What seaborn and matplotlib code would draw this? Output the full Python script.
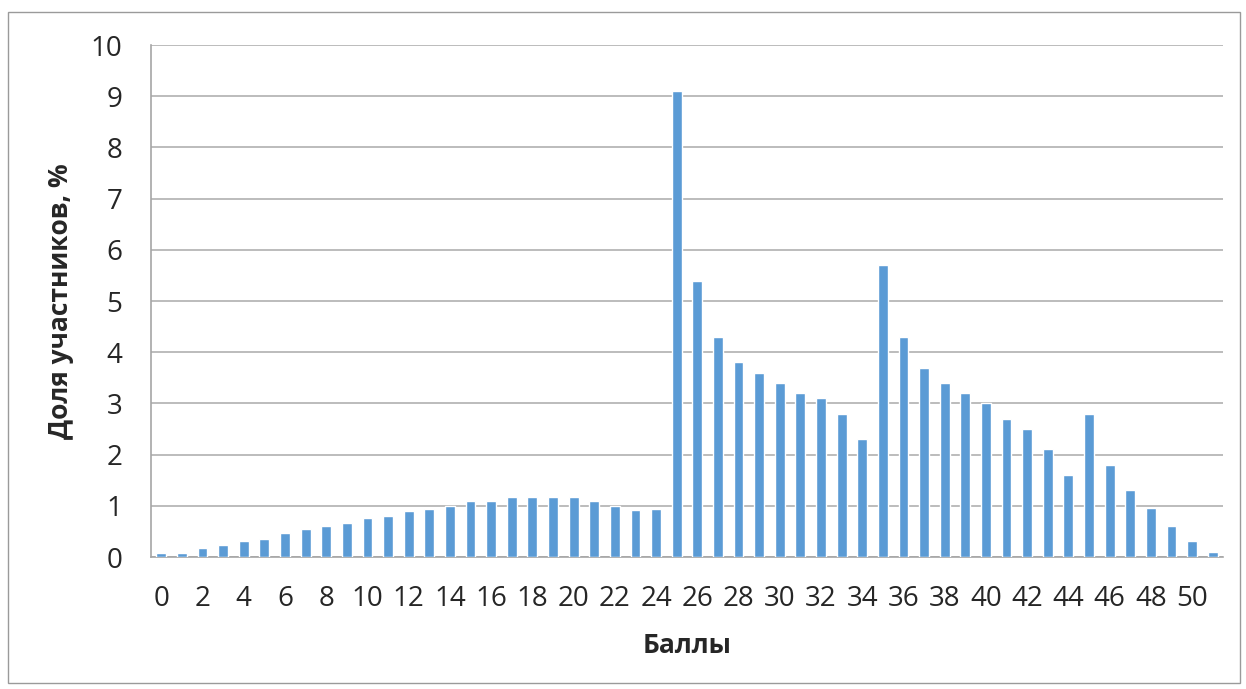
import numpy as np
import pandas as pd
import matplotlib
matplotlib.use("Agg")
import matplotlib.pyplot as plt
import seaborn as sns
from matplotlib.patches import Rectangle

# баллы 0..51 и доля участников, %
scores = list(range(52))
shares = [0.08, 0.08, 0.18, 0.24, 0.31, 0.36, 0.46, 0.54, 0.61, 0.66,
          0.76, 0.81, 0.89, 0.93, 1.0, 1.09, 1.09, 1.18, 1.18, 1.18,
          1.18, 1.09, 1.0, 0.91, 0.93, 9.1, 5.4, 4.3, 3.8, 3.6,
          3.4, 3.2, 3.1, 2.8, 2.3, 5.7, 4.3, 3.7, 3.4, 3.2,
          3.0, 2.7, 2.5, 2.1, 1.6, 2.8, 1.8, 1.3, 0.96, 0.61,
          0.31, 0.1]
y_ticks = list(range(0, 11))
x_label = "Баллы"
y_label = "Доля участников, %"

df = pd.DataFrame({"score": scores, "share": shares})

sns.set_style("white")
plt.rcParams["font.family"] = ["Open Sans", "DejaVu Sans"]

fig = plt.figure(figsize=(12.46, 6.89), dpi=100)
ax = fig.add_axes([151 / 1246, 1 - 557 / 689, (1223 - 151) / 1246, (557 - 45) / 689])

sns.barplot(data=df, x="score", y="share", color="#5B9BD5", width=0.48,
            saturation=1, ax=ax, zorder=3)

ax.set_xlim(-0.5, len(scores) - 0.5)
ax.set_ylim(0, 10)
ax.set_yticks(y_ticks)
ax.yaxis.grid(True, color="#b0b0b0", linewidth=1.2, zorder=0)
ax.set_axisbelow(True)

ax.set_xticks(range(0, len(scores), 2))
ax.set_xticklabels([str(s) for s in scores[::2]])
ax.set_xticks(np.arange(-0.5, len(scores), 1), minor=True)
ax.tick_params(axis="x", which="major", length=0, labelsize=20, pad=20)
ax.tick_params(axis="x", which="minor", length=8, color="#a6a6a6", width=1.2)
ax.tick_params(axis="y", length=7.5, color="#a6a6a6", width=1.2, labelsize=20, pad=13)

for side in ["top", "right"]:
    ax.spines[side].set_visible(False)
for side in ["left", "bottom"]:
    ax.spines[side].set_color("#a6a6a6")
    ax.spines[side].set_linewidth(1.2)

ax.set_xlabel(x_label, fontsize=19, fontweight="bold", labelpad=14)
ax.set_ylabel(y_label, fontsize=19, fontweight="bold", labelpad=12)

# рамка вокруг диаграммы
fig.patches.append(Rectangle((8 / 1246, 6 / 689), 1232 / 1246, 671 / 689,
                             transform=fig.transFigure, fill=False,
                             edgecolor="#9a9a9a", linewidth=1))

fig.savefig("out.png", dpi=100)
